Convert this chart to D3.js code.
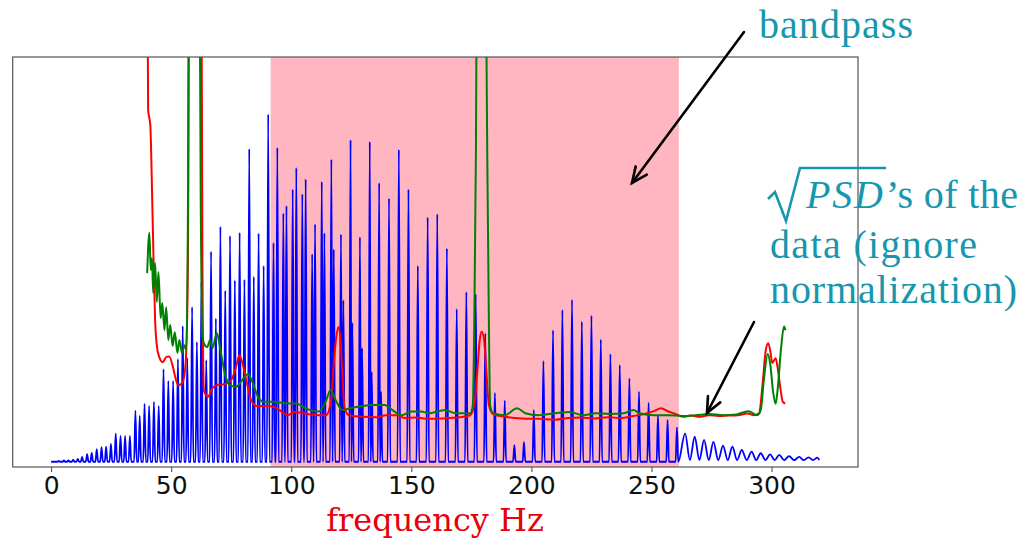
<!DOCTYPE html>
<html>
<head>
<meta charset="utf-8">
<script src="https://cdn.jsdelivr.net/npm/d3@7"></script>
<style>
  body { margin: 0; background: #fff; }
  svg { display: block; }
</style>
</head>
<body>
<div id="chart"></div>
<script>

// ---- values ----
const xTicks = [0, 50, 100, 150, 200, 250, 300];
const bandHz = [91.4, 261.4];

// blue spectrum: harmonic peaks (Hz, height)
const blueHz = [3.2,5.3,7.2,9.2,11.1,12.9,15.0,16.9,19.0,21.0,22.9,24.9,26.9,28.9,30.8,32.8,35.1,36.9,38.9,40.8,
  42.8,44.8,46.8,48.8,50.8,52.8,54.8,56.7,58.7,60.7,62.6,64.6,66.6,68.6,70.5,72.5,74.5,76.5,78.5,80.5,
  82.5,84.4,86.4,88.5,90.4,92.6,94.2,96.7,98.0,100.6,102.1,104.6,106.0,108.7,109.9,112.7,113.8,116.7,117.7,120.7,
  121.7,124.7,125.45,128.6,129.5,132.7,133.5,136.6,137.4,140.7,144.8,148.8,152.7,156.8,160.8,164.8,168.9,172.9,176.8,180.8,
  184.8,188.9,192.9,196.9,201.0,205.0,209.0,212.9,216.9,221.0,225.0,228.9,232.9,236.8,240.8,244.8,248.8,252.7,256.7,260.6,
  264.0,268.0,271.9,275.8,279.8,283.7,287.6,291.7,295.5,299.4,303.2,307.3,311.5,315.4,319.1];
const blueAmp = [0.2,0.3,0.3,0.5,0.7,1.2,1.9,2.2,3.1,3.6,3.7,4.4,7.0,6.4,6.4,6.4,12.6,11.3,14.3,13.8,
  14.8,13.8,22.9,20.0,20.0,25.4,33.5,25.6,38.2,29.6,44.3,25.1,51.9,35.4,58.1,42.3,55.8,44.8,56.6,45.0,
  77.3,45.7,56.4,48.4,85.8,54.1,77.6,61.4,63.2,67.3,72.6,66.1,69.8,51.3,58.7,69.2,56.5,74.7,52.5,56.2,
  39.9,79.5,34.3,55.5,28.1,79.1,22.2,68.9,17.3,65.1,77.1,67.3,48.4,60.4,61.2,52.7,37.7,41.9,41.4,31.7,
  17.0,15.1,4.1,4.9,12.8,24.9,32.5,37.5,40.0,34.6,36.1,30.2,26.6,23.9,20.6,17.3,14.6,11.5,10.3,8.5,
  7.0,6.2,5.4,4.9,4.0,3.7,2.9,2.5,2.1,1.8,1.7,1.4,1.2,1.1,1.0];
const blueEndHz = 320.6;

// red sqrt(PSD)
const redHz = [40.0,40.4,41.3,42.1,42.7,43.3,44.0,45.0,46.5,48.0,49.2,50.8,52.0,53.0,54.5,55.5,56.3,57.0,57.5,62.5,
  63.0,63.6,64.2,65.2,67.2,69.5,72.5,75.0,77.0,78.4,80.0,81.7,83.3,85.5,90.0,93.0,96.0,98.5,101.5,105.0,
  108.0,111.5,114.5,116.6,117.8,118.6,119.6,120.5,121.3,122.2,124.0,130.0,135.5,139.5,143.5,147.5,152.0,157.0,163.0,170.0,
  174.5,176.5,177.5,178.5,179.3,180.3,181.2,182.3,184.0,189.0,196.0,203.0,210.0,215.5,220.5,226.0,232.0,237.0,242.5,247.0,
  251.0,254.0,257.0,260.0,263.0,266.5,270.0,274.0,278.0,282.0,286.0,290.0,292.7,294.8,296.3,297.6,298.6,299.6,300.3,301.7,
  302.5,303.6,304.7,305.7];
const redAmp = [130,86.9,83.2,64.7,48.6,35.0,28.8,25.9,24.6,25.9,26.0,23.2,20.2,18.9,19.4,21.4,27.6,52.3,130,130,
  50,17.7,16.7,16.0,18.2,19.0,19.2,20.2,23.4,26.4,23.6,19.0,15.2,13.8,13.8,13.5,12.4,11.5,12.3,12.0,
  11.7,11.5,11.5,15.2,25.1,30.1,33.3,30.1,21.4,13.3,11.5,11.1,11.0,11.5,11.5,10.8,10.9,10.6,10.7,11.0,
  11.5,15.2,22.7,30.1,32.1,30.1,22.7,14.0,11.8,11.1,10.7,10.6,10.4,10.8,10.9,10.7,11.0,10.8,11.3,11.8,
  12.5,13.2,12.4,11.8,11.1,11.4,11.1,11.5,11.3,11.4,11.5,11.9,11.5,12.0,19.4,27.6,29.3,26.9,24.4,25.6,
  23.4,18.5,14.8,14.4];

// green sqrt(PSD)
const greenHz = [40.0,40.9,41.5,42.0,42.5,43.3,44.0,44.7,45.6,46.3,47.2,47.9,48.8,49.6,50.6,51.5,52.6,53.4,54.5,55.5,
  56.3,57.0,57.5,61.7,62.3,62.8,63.6,65.0,66.2,67.2,69.0,70.5,72.5,74.5,77.0,79.0,80.5,82.0,84.0,86.0,
  88.5,93.0,99.0,102.0,106.0,111.5,114.3,116.4,118.5,121.3,124.5,129.5,135.0,139.0,142.0,146.0,150.0,154.0,157.5,164.0,
  168.5,174.5,175.6,176.3,176.9,177.4,179.0,180.8,181.6,182.2,182.8,184.0,189.0,194.0,197.5,203.0,210.0,216.0,221.5,227.0,
  232.5,238.5,242.5,245.0,251.0,257.0,263.0,268.5,274.0,280.0,285.5,290.3,294.0,295.5,296.8,298.4,299.5,300.7,301.7,302.6,
  304.0,305.2,305.8];
const greenAmp = [46.6,56.6,47.4,50.3,41.7,49.1,39.5,46.9,35.5,39.2,32.5,38.2,30.1,33.8,28.6,32.0,26.9,30.1,26.9,28.8,
  27.6,64.7,130,130,64.7,32.5,29.3,28.3,30.1,28.1,31.8,27.6,21.4,18.9,18.5,19.7,20.9,21.7,19.4,16.2,
  14.8,14.8,14.4,14.4,13.2,12.4,14.8,17.7,15.2,12.8,13.2,13.8,14.0,14.0,12.8,11.5,12.4,12.4,12.0,12.8,
  12.0,12.0,14.0,40.0,77.0,135,160,135,77.0,40.0,14.0,12.0,11.5,13.2,12.0,11.5,12.0,12.3,11.5,12.0,
  11.8,12.0,12.8,12.0,11.5,11.5,11.3,11.5,11.8,11.5,11.7,12.5,11.5,12.8,20.2,26.6,23.9,17.0,14.3,18.2,
  28.3,33.4,32.5];

// ---- layout ----
const width = 1030, height = 545;
const plot = { left: 12.7, right: 858, top: 57, bottom: 467 };
const teal = '#1797ad';

const svg = d3.select('#chart').append('svg')
  .attr('width', width)
  .attr('height', height);

const xScale = d3.scaleLinear().domain([-16, 336]).range([plot.left, plot.right]);
const yScale = d3.scaleLinear().domain([-1.3, 100]).range([plot.bottom, plot.top]);

svg.append('clipPath').attr('id', 'plot-clip')
  .append('rect')
  .attr('x', plot.left).attr('y', plot.top)
  .attr('width', plot.right - plot.left)
  .attr('height', plot.bottom - plot.top);

// bandpass span
svg.append('rect')
  .attr('x', xScale(bandHz[0]))
  .attr('y', plot.top)
  .attr('width', xScale(bandHz[1]) - xScale(bandHz[0]))
  .attr('height', plot.bottom - plot.top)
  .attr('fill', '#ffb6c1');

// blue comb: narrow spikes from the floor, gentle ripple above the band
function spikes(hz, amp, endHz) {
  const pts = [[0, 0]];
  hz.forEach((f, i) => {
    const ripple = f > 262;
    const prev = i > 0 ? hz[i - 1] : f - 4;
    const next = i < hz.length - 1 ? hz[i + 1] : endHz;
    if (ripple) {
      pts.push([f, amp[i]]);
      pts.push([(f + next) / 2, 0.4]);
    } else {
      pts.push([f - Math.min(0.55, (f - prev) * 0.45), 0]);
      pts.push([f, amp[i]]);
      pts.push([f + Math.min(0.55, (next - f) * 0.45), 0]);
    }
  });
  return pts;
}

const smooth = d3.line()
  .x(d => xScale(d[0]))
  .y(d => yScale(d[1]))
  .curve(d3.curveMonotoneX);

const plotArea = svg.append('g').attr('clip-path', 'url(#plot-clip)');

plotArea.append('path')
  .datum(spikes(blueHz, blueAmp, blueEndHz))
  .attr('d', smooth)
  .attr('fill', 'none')
  .attr('stroke', '#0000ff')
  .attr('stroke-width', 1.8)
  .attr('stroke-linejoin', 'round');

plotArea.append('path')
  .datum(redHz.map((f, i) => [f, redAmp[i]]))
  .attr('d', smooth)
  .attr('fill', 'none')
  .attr('stroke', '#ff0000')
  .attr('stroke-width', 2);

plotArea.append('path')
  .datum(greenHz.map((f, i) => [f, greenAmp[i]]))
  .attr('d', smooth)
  .attr('fill', 'none')
  .attr('stroke', '#008000')
  .attr('stroke-width', 2);

// frame
svg.append('rect')
  .attr('x', plot.left).attr('y', plot.top)
  .attr('width', plot.right - plot.left)
  .attr('height', plot.bottom - plot.top)
  .attr('fill', 'none')
  .attr('stroke', '#555')
  .attr('stroke-width', 1.2);

// x axis
const xAxis = d3.axisBottom(xScale)
  .tickValues(xTicks)
  .tickSize(5)
  .tickPadding(4);

const axisG = svg.append('g')
  .attr('transform', `translate(0, ${plot.bottom})`)
  .call(xAxis);
axisG.select('.domain').remove();
axisG.selectAll('line').attr('stroke', '#444');
axisG.selectAll('text')
  .attr('fill', '#111')
  .style('font-family', '"DejaVu Sans", sans-serif')
  .style('font-size', '25px');

svg.append('text')
  .attr('x', 435).attr('y', 531)
  .attr('text-anchor', 'middle')
  .attr('fill', '#e8000b')
  .style('font-family', '"DejaVu Serif", serif')
  .style('font-size', '32px')
  .text('frequency Hz');

// ---- annotations ----
const annoFont = '"Liberation Serif", "Times New Roman", serif';

function note(str, x, y, len, italic) {
  svg.append('text')
    .attr('x', x).attr('y', y)
    .attr('textLength', len)
    .attr('lengthAdjust', 'spacing')
    .attr('fill', teal)
    .style('font-family', annoFont)
    .style('font-size', '40px')
    .style('font-style', italic ? 'italic' : 'normal')
    .text(str);
}

note('bandpass', 759, 38, 154);
note('PSD', 806, 208, 77, true);
note('\u2019s of the', 886, 208, 132);
note('data (ignore', 770, 258, 207);
note('normalization)', 770, 302.5, 247);

// radical sign over PSD
svg.append('path')
  .attr('d', 'M768,199 L775,192 L786,221 L800,168 L886,168')
  .attr('fill', 'none')
  .attr('stroke', teal)
  .attr('stroke-width', 2.6)
  .attr('stroke-linejoin', 'miter');

function arrow(x1, y1, x2, y2) {
  const a = Math.atan2(y2 - y1, x2 - x1);
  const len = 17, spread = 0.42;
  const g = svg.append('g')
    .attr('stroke', '#000')
    .attr('stroke-width', 2.6)
    .attr('fill', 'none')
    .attr('stroke-linecap', 'round');
  g.append('line').attr('x1', x1).attr('y1', y1).attr('x2', x2).attr('y2', y2);
  g.append('path').attr('d',
    `M${x2 - len * Math.cos(a - spread)},${y2 - len * Math.sin(a - spread)}` +
    `L${x2},${y2}` +
    `L${x2 - len * Math.cos(a + spread)},${y2 - len * Math.sin(a + spread)}`);
}

arrow(744, 32, 632, 183);
arrow(754, 322, 707, 413);

</script>
</body>
</html>
